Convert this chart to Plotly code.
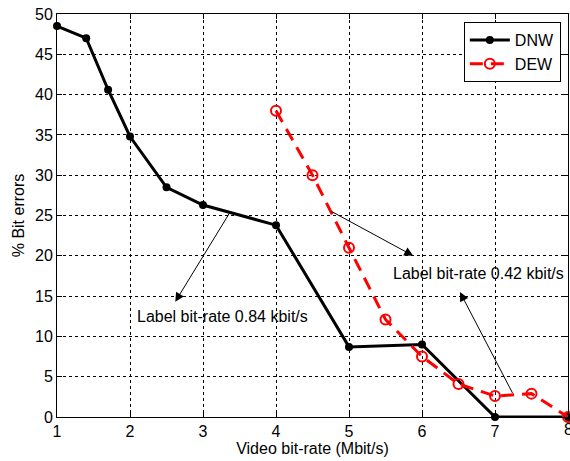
import plotly.graph_objects as go

# Data
dnw_x = [1, 1.4, 1.7, 2, 2.5, 3, 4, 5, 6, 7, 8]
dnw_y = [48.5, 47.0, 40.6, 34.8, 28.5, 26.3, 23.8, 8.7, 9.0, 0.0, 0.0]
dew_x = [4, 4.5, 5, 5.5, 6, 6.5, 7, 7.5, 8]
dew_y = [38.0, 30.0, 21.0, 12.1, 7.5, 4.1, 2.6, 2.9, 0.0]

x_ticks = [1, 2, 3, 4, 5, 6, 7, 8]
y_ticks = [0, 5, 10, 15, 20, 25, 30, 35, 40, 45, 50]

label1 = "Label bit-rate 0.84 kbit/s"
label2 = "Label bit-rate 0.42 kbit/s"

FONT = "Liberation Sans, Arial, sans-serif"
FS = 16

fig = go.Figure()
fig.add_trace(go.Scatter(
    x=dnw_x, y=dnw_y, name="DNW", mode="lines+markers",
    line=dict(color="black", width=3),
    marker=dict(symbol="circle", size=8, color="black"),
    cliponaxis=False,
))
fig.add_trace(go.Scatter(
    x=dew_x, y=dew_y, name="DEW", mode="lines+markers",
    line=dict(color="red", width=3, dash="13px,8px"),
    marker=dict(symbol="circle-open", size=10, color="red", line=dict(width=2)),
    cliponaxis=False,
))

arrow = dict(showarrow=True, arrowhead=2, arrowsize=1.8, arrowwidth=1,
             arrowcolor="black", axref="x", ayref="y", text="")
fig.add_annotation(x=2.62, y=14.3, ax=3.37, ay=25.4, **arrow)
fig.add_annotation(x=5.88, y=20.0, ax=4.74, ay=25.6, **arrow)
fig.add_annotation(x=6.52, y=15.5, ax=7.25, ay=2.8, **arrow)
fig.add_annotation(x=2.07, y=12.5, text=label1, showarrow=False,
                   xanchor="left", yanchor="middle",
                   font=dict(family=FONT, size=FS, color="black"))
fig.add_annotation(x=5.58, y=17.85, text=label2, showarrow=False,
                   xanchor="left", yanchor="middle",
                   font=dict(family=FONT, size=FS, color="black"))
# last x tick label, which the axis drops because it overflows the page edge
fig.add_annotation(x=x_ticks[-1], y=0, yref="y", text=str(x_ticks[-1]),
                   showarrow=False, xanchor="center", yanchor="top", yshift=-2,
                   font=dict(family=FONT, size=FS, color="black"))

axis_common = dict(
    showline=True, linecolor="black", linewidth=1, mirror="allticks",
    ticks="inside", ticklen=5, tickcolor="black",
    showgrid=True, gridcolor="black", gridwidth=1, griddash="3px,3px",
    zeroline=False, automargin=False,
    tickfont=dict(family=FONT, size=FS, color="black"),
)
fig.update_xaxes(range=[1, 8], tickvals=x_ticks, **axis_common,
                 title=dict(text="Video bit-rate (Mbit/s)", standoff=2,
                            font=dict(family=FONT, size=FS, color="black")))
fig.update_yaxes(range=[0, 50], tickvals=y_ticks, **axis_common,
                 title=dict(text="% Bit errors", standoff=6,
                            font=dict(family=FONT, size=FS, color="black")))

fig.update_layout(
    width=570, height=461,
    margin=dict(l=57, r=2, t=14, b=44),
    plot_bgcolor="white", paper_bgcolor="white",
    font=dict(family=FONT, size=FS, color="black"),
    legend=dict(x=0.986, y=0.98, xanchor="right", yanchor="top",
                bordercolor="black", borderwidth=1, bgcolor="white",
                font=dict(family=FONT, size=FS, color="black"),
                tracegroupgap=0, itemwidth=40),
    showlegend=True,
)

fig.write_html("out.html",
               config={"displayModeBar": False},
               post_script="document.body.style.margin='0px';document.body.style.overflow='hidden';")
